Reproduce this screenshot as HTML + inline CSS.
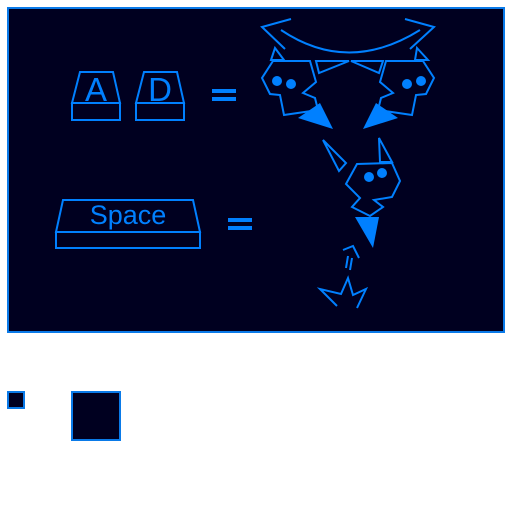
<!DOCTYPE html>
<html><head><meta charset="utf-8"><style>
html,body{margin:0;padding:0;background:#fff;}
svg{display:block;}
text{font-family:"Liberation Sans",sans-serif;fill:#0080ff;}
</style></head><body>
<svg width="512" height="512" viewBox="0 0 512 512">
<rect x="8" y="8" width="496" height="324" fill="#000020" stroke="#0a7ae8" stroke-width="2"/>
<g fill="none" stroke="#0080ff" stroke-width="2">
 <g>
  <polygon points="80,72 113,72 120,103 72,103"/><rect x="72" y="103" width="48" height="17"/>
 </g>
 <g>
  <polygon points="144,72 177,72 184,103 136,103"/><rect x="136" y="103" width="48" height="17"/>
 </g>
 <g>
  <polygon points="63,200 193,200 200,232 56,232"/><rect x="56" y="232" width="144" height="16"/>
 </g>
</g>
<text x="96" y="101" font-size="33" text-anchor="middle">A</text>
<text x="160" y="101" font-size="33" text-anchor="middle">D</text>
<text x="128" y="224" font-size="27" text-anchor="middle">Space</text>
<g fill="#0080ff">
 <g><rect x="212" y="89" width="24" height="4"/><rect x="212" y="97" width="24" height="4"/></g>
 <g><rect x="228" y="218" width="24" height="4"/><rect x="228" y="226" width="24" height="4"/></g>
</g>
<g fill="none" stroke="#0080ff" stroke-width="2">
 <polyline points="291,19 262,27 285,49"/>
 <polyline points="405,19 434,27 410,49"/>
 <path d="M281,30 Q348,75 420,30"/>
 <polygon points="275,48 271,60 284,60"/>
 <polygon points="417,48 428,60 415,60"/>
 <polygon points="316,61 349,61 319,73"/>
 <polygon points="351,61 383,61 379,73"/>
 <polygon points="273,61 310,61 316,82 303,93 315,98 318,110 284,115 280,95 270,94 262,78"/>
 <polygon points="423,61 386,61 380,82 393,93 381,98 378,110 412,115 416,95 426,94 434,78"/>
</g>
<g fill="#0080ff">
 <circle cx="277" cy="81" r="5"/><circle cx="291" cy="84" r="5"/>
 <circle cx="421" cy="81" r="5"/><circle cx="407" cy="84" r="5"/>
 <polygon points="298,118 320,103 333,129"/>
 <polygon points="398,118 376,103 363,129"/>
</g>
<g fill="none" stroke="#0080ff" stroke-width="2">
 <polygon points="323,140 346,163 339,171"/>
 <polygon points="379,138 392,162 380,162"/>
 <polygon points="357,164 392,163 400,181 392,197 374,200 383,207 370,216 352,207 360,198 346,184"/>
 <polyline points="343,250 353,246 359,258"/>
 <line x1="346" y1="268" x2="348" y2="256"/><line x1="350" y1="270" x2="352" y2="258"/>
 <polyline points="337,306 320,289 341,294 348,278 353,295 366,289 357,308"/>
</g>
<g fill="#0080ff">
 <circle cx="369" cy="177" r="5"/><circle cx="382" cy="173" r="5"/>
 <polygon points="355,217 379,217 373,248"/>
</g>
<rect x="8" y="392" width="16" height="16" fill="#000020" stroke="#0a7ae8" stroke-width="2"/>
<rect x="72" y="392" width="48" height="48" fill="#000020" stroke="#0a7ae8" stroke-width="2"/>
</svg>
</body></html>
